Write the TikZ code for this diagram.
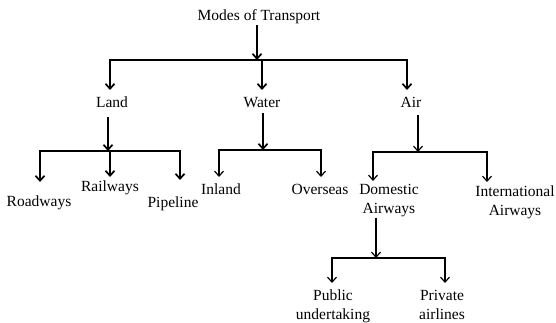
\documentclass[tikz,border=0pt]{standalone}
\usepackage{fontspec}
\setmainfont{Liberation Serif}
\usetikzlibrary{arrows.meta}

\begin{document}
\begin{tikzpicture}[
  x=1pt,
  y=-1pt,
  every node/.style={
    anchor=north,
    inner sep=0pt,
    outer sep=0pt,
    align=center,
    font=\fontsize{15.5}{19}\selectfont,
  },
  >={Straight Barb[length=5pt,width=9pt]},
  trunk/.style={->,line width=1.7pt},
  twig/.style={->,line width=1.2pt},
]
  \useasboundingbox (0,0) rectangle (556,323);
  % labels, placed by their top edge
  \node (modes)    at (259,10)  {Modes of Transport};
  \node (land)     at (112,97)  {Land};
  \node (water)    at (262,97)  {Water};
  \node (air)      at (411,97)  {Air};
  \node (roadways) at (39,196)  {Roadways};
  \node (railways) at (110,181) {Railways};
  \node (pipeline) at (173,197) {Pipeline};
  \node (inland)   at (221,184) {Inland};
  \node (overseas) at (320,184) {Overseas};
  \node (domestic) at (389,184) {Domestic\\Airways};
  \node (intl)     at (515,186) {International\\Airways};
  \node (public)   at (333,290) {Public\\undertaking};
  \node (private)  at (442,290) {Private\\airlines};

  % split points
  \coordinate (topj)   at (257,60);
  \coordinate (landj)  at (108,151);
  \coordinate (waterj) at (263,150);
  \coordinate (airj)   at (418,152);
  \coordinate (domj)   at (376,258);

  \def\Drop#1#2#3#4{
    \draw[#1] (#2) -| ([xshift=#4pt]#3.north);%
  }

  \draw[trunk,shorten <=1pt]   (modes.south -| topj)    -- (topj);
  \Drop{trunk,shorten >=7pt}{topj}{land}{-2}
  \Drop{trunk,shorten >=7pt}{topj}{water}{0}
  \Drop{trunk,shorten >=7pt}{topj}{air}{-4}

  \draw[trunk,shorten <=9.5pt] (land.south -| landj)    -- (landj);
  \Drop{trunk,shorten >=14pt}{landj}{roadways}{1}
  \Drop{trunk,shorten >=4pt}{landj}{railways}{0}
  \Drop{trunk,shorten >=17pt}{landj}{pipeline}{7}

  \draw[trunk,shorten <=5.5pt] (water.south -| waterj)  -- (waterj);
  \Drop{twig,shorten >=7pt}{waterj}{inland}{-2}
  \Drop{twig,shorten >=7pt}{waterj}{overseas}{1}

  \draw[twig,shorten <=7.5pt]  (air.south -| airj)      -- (airj);
  \Drop{twig,shorten >=3pt}{airj}{domestic}{-16}
  \Drop{twig,shorten >=4pt}{airj}{intl}{-28}

  \draw[twig,shorten <=1pt]    (domestic.south -| domj) -- (domj);
  \Drop{twig,shorten >=7pt}{domj}{public}{-1}
  \Drop{twig,shorten >=7pt}{domj}{private}{3}
\end{tikzpicture}
\end{document}
